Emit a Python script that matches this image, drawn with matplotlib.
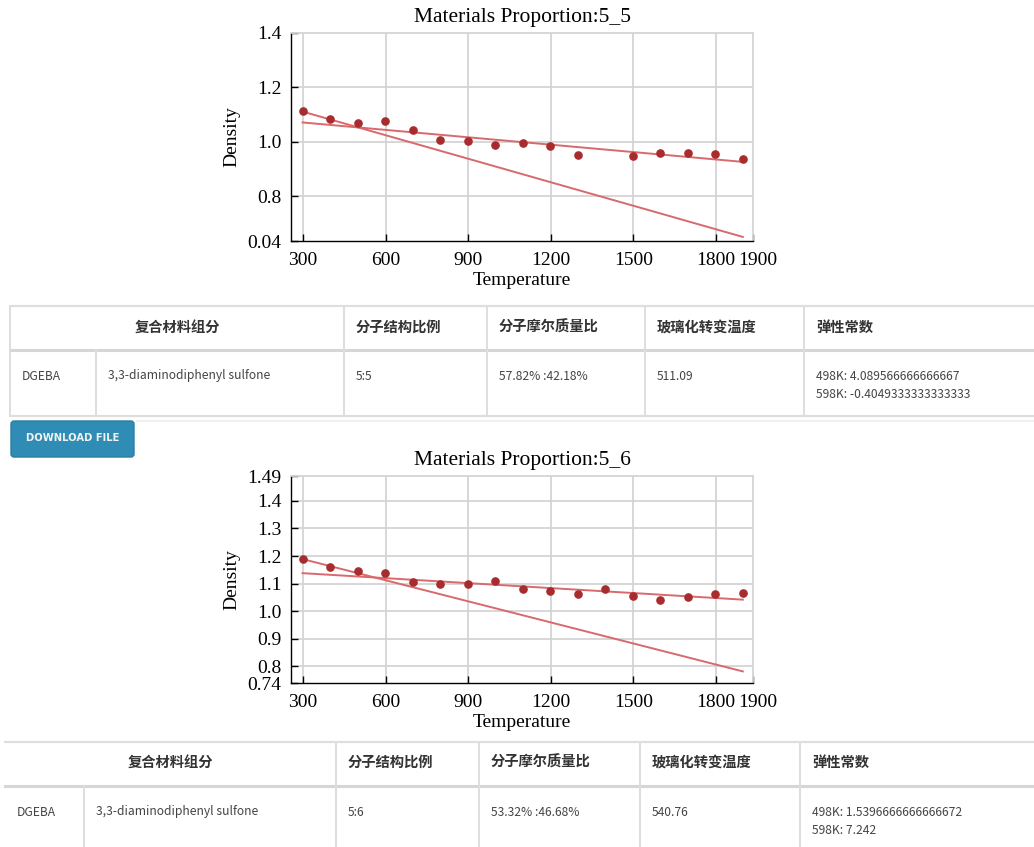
import matplotlib
matplotlib.use("Agg")
import matplotlib.pyplot as plt
import matplotlib.transforms as mtransforms
from matplotlib.patches import FancyBboxPatch

# ===== 데이터 =====
T_55 = [298, 398, 498, 598, 698, 798, 898, 998, 1098, 1198, 1298, 1498, 1598, 1698, 1798, 1898]
D_55 = [1.114, 1.085, 1.068, 1.076, 1.044, 1.008, 1.001, 0.988, 0.996, 0.984, 0.953,
        0.947, 0.957, 0.957, 0.955, 0.936]
T_56 = [298, 398, 498, 598, 698, 798, 898, 998, 1098, 1198, 1298, 1398, 1498, 1598, 1698, 1798, 1898]
D_56 = [1.189, 1.160, 1.146, 1.140, 1.107, 1.099, 1.098, 1.110, 1.082, 1.075, 1.062,
        1.081, 1.055, 1.039, 1.051, 1.063, 1.067]

fit_T = [298, 1898]
fit1_55 = [1.071, 0.926]
fit2_55 = [1.111, 0.650]
fit1_56 = [1.138, 1.042]
fit2_56 = [1.189, 0.782]

xticks = [300, 600, 900, 1200, 1500, 1800, 1935]
xticklabels = ["300", "600", "900", "1200", "1500", "1800", "1900"]
yticks_55 = [0.635, 0.8, 1.0, 1.2, 1.4]
yticklabels_55 = ["0.04", "0.8", "1.0", "1.2", "1.4"]
yticks_56 = [0.74, 0.8, 0.9, 1.0, 1.1, 1.2, 1.3, 1.4, 1.49]
yticklabels_56 = ["0.74", "0.8", "0.9", "1.0", "1.1", "1.2", "1.3", "1.4", "1.49"]

headers = ["复合材料组分", "分子结构比例", "分子摩尔质量比", "玻璃化转变温度", "弹性常数"]
row_55 = ["DGEBA", "3,3-diaminodiphenyl sulfone", "5:5", "57.82% :42.18%", "511.09"]
elastic_55 = ["498K: 4.089566666666667", "598K: -0.4049333333333333"]
row_56 = ["DGEBA", "3,3-diaminodiphenyl sulfone", "5:6", "53.32% :46.68%", "540.76"]
elastic_56 = ["498K: 1.5396666666666672", "598K: 7.242"]

W, H = 1034, 847
fig = plt.figure(figsize=(W / 100, H / 100), dpi=100)

SERIF = "Liberation Serif"
DOT = "#a82c2e"
LINE = "#d8696d"
GRID = "#d4d4d4"


def px_axes(left, top, right, bottom):
    return fig.add_axes([left / W, 1 - bottom / H, (right - left) / W, (bottom - top) / H])


def density_chart(ax, T, D, f1, f2, yticks, ylabels, title):
    ax.set_xlim(256, 1935)
    ax.set_ylim(yticks[0], yticks[-1])
    for x in xticks[:-1]:
        ax.axvline(x, color=GRID, lw=1.3, zorder=0)
    for y in yticks[1:-1]:
        ax.axhline(y, color=GRID, lw=1.3, zorder=0)
    ax.plot(fit_T, f1, color=LINE, lw=1.4, zorder=2)
    ax.plot(fit_T, f2, color=LINE, lw=1.4, zorder=2)
    ax.plot(T, D, "o", color=DOT, ms=5.2, zorder=3)
    ax.set_xticks(xticks)
    ax.set_xticklabels(xticklabels, fontfamily=SERIF, fontsize=14)
    ax.set_yticks(yticks)
    ax.set_yticklabels(ylabels, fontfamily=SERIF, fontsize=14)
    ax.tick_params(direction="in", length=5, width=1)
    ax.tick_params(axis="x", pad=8)
    ax.tick_params(axis="y", pad=7)
    # 마지막 "1900" 라벨은 살짝 오른쪽으로
    last = ax.get_xticklabels()[-1]
    last.set_transform(last.get_transform() +
                       mtransforms.ScaledTranslation(5 / 100, 0, fig.dpi_scale_trans))
    for s in ("top", "right"):
        ax.spines[s].set_color(GRID)
        ax.spines[s].set_linewidth(1.3)
    for s in ("left", "bottom"):
        ax.spines[s].set_color("black")
        ax.spines[s].set_linewidth(1.0)
    ax.set_xlabel("Temperature", fontfamily=SERIF, fontsize=14, labelpad=2)
    ax.set_ylabel("Density", fontfamily=SERIF, fontsize=14, labelpad=5)
    ax.set_title(title, fontfamily=SERIF, fontsize=15.5, pad=8)


ax1 = px_axes(291, 33, 753, 241)
density_chart(ax1, T_55, D_55, fit1_55, fit2_55, yticks_55, yticklabels_55, "Materials Proportion:5_5")
ax2 = px_axes(291, 476, 753, 683)
density_chart(ax2, T_56, D_56, fit1_56, fit2_56, yticks_56, yticklabels_56, "Materials Proportion:5_6")

# ===== 표 (픽셀 좌표) =====
tab = fig.add_axes([0, 0, 1, 1], zorder=-1)
tab.set_xlim(0, W)
tab.set_ylim(H, 0)
tab.axis("off")

CJK = ["Noto Sans CJK SC", "DejaVu Sans"]
TL = "#dedede"


def draw_table(x0, top, hbot, bot, cols, split, hy, dy, row, elastic, left_border):
    tab.plot([x0, W], [top, top], color=TL, lw=1.6)
    tab.plot([x0, W], [hbot, hbot], color="#d6d6d6", lw=2.2)
    tab.plot([x0, W], [bot, bot], color=TL, lw=1.6)
    if left_border:
        tab.plot([x0, x0], [top, bot], color=TL, lw=1.4)
    for c in cols:
        tab.plot([c, c], [top, bot], color=TL, lw=1.4)
    tab.plot([split, split], [hbot, bot], color=TL, lw=1.4)
    tab.text((x0 + cols[0]) / 2, hy, headers[0], ha="center", va="center",
             family=CJK, fontsize=10.3, fontweight="bold", color="#333333")
    for c, h in zip(cols, headers[1:]):
        tab.text(c + 12, hy, h, ha="left", va="center",
                 family=CJK, fontsize=10.3, fontweight="bold", color="#333333")
    xs = [x0 + 12, split + 12] + [c + 12 for c in cols[:3]]
    for x, s in zip(xs, row):
        tab.text(x, dy + 4.5, s, ha="left", va="baseline", family=CJK, fontsize=8.7, color="#444444")
    for i, s in enumerate(elastic):
        tab.text(cols[3] + 12, dy + 4.5 + i * 19, s, ha="left", va="baseline",
                 family=CJK, fontsize=8.7, color="#444444")


draw_table(10, 306, 350, 416, [344, 487, 645, 804], 96, 328, 375, row_55, elastic_55, True)
draw_table(5, 742, 786, 860, [336, 479, 640, 800], 84, 763, 811, row_56, elastic_56, False)

# 다운로드 버튼
tab.plot([137, W], [421, 421], color="#ececec", lw=1.2)
tab.add_patch(FancyBboxPatch((11, 421), 123, 36, boxstyle="round,pad=0,rounding_size=3",
                             fc="#2f8cb4", ec="#2a7fa3", lw=1))
tab.text(72.5, 438, "DOWNLOAD FILE", ha="center", va="center", color="#f2f2f2",
         family="DejaVu Sans", fontsize=7.2, fontweight="bold")

fig.savefig("out.png", dpi=100)
